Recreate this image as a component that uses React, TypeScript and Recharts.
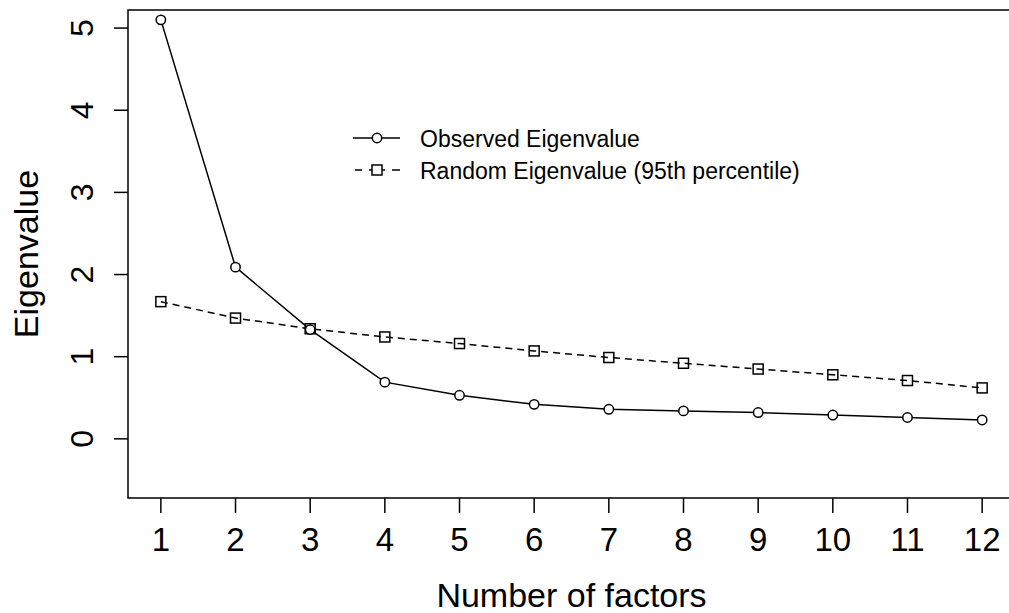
import { LineChart, Line, XAxis, YAxis, ReferenceArea } from "recharts";

const factors = [1, 2, 3, 4, 5, 6, 7, 8, 9, 10, 11, 12];
const observed = [5.1, 2.09, 1.33, 0.69, 0.53, 0.42, 0.36, 0.34, 0.32, 0.29, 0.26, 0.23];
const random95 = [1.67, 1.47, 1.34, 1.24, 1.16, 1.07, 0.99, 0.92, 0.85, 0.78, 0.71, 0.62];
const yTicks = [0, 1, 2, 3, 4, 5];

const data = factors.map((f, i) => ({
  factor: f,
  observed: observed[i],
  random: random95[i],
}));

const FONT = "'Liberation Sans', Arial, sans-serif";

const XTick = (props: any) => {
  const { x, payload } = props;
  return (
    <text x={x} y={551} textAnchor="middle" fontSize={33} fontFamily={FONT} fill="#000">
      {payload.value}
    </text>
  );
};

const YTick = (props: any) => {
  const { y, payload } = props;
  return (
    <text
      x={93}
      y={y}
      transform={`rotate(-90, 93, ${y})`}
      textAnchor="middle"
      fontSize={32}
      fontFamily={FONT}
      fill="#000"
    >
      {payload.value}
    </text>
  );
};

const SquareDot = (props: any) => {
  const { cx, cy, index } = props;
  return (
    <rect
      key={`sq-${index}`}
      x={cx - 5}
      y={cy - 5}
      width={10}
      height={10}
      fill="none"
      stroke="#000"
      strokeWidth={1.5}
    />
  );
};

// legend drawn as its own little svg, placed over the plot
const LegendBox = () => (
  <svg width={480} height={70} style={{ position: "absolute", left: 345, top: 118 }}>
    <line x1={8} y1={20} x2={55} y2={20} stroke="#000" strokeWidth={1.5} />
    <circle cx={32} cy={20} r={4.7} fill="#fff" stroke="#000" strokeWidth={1.5} />
    <text x={75} y={29} fontSize={23} fontFamily={FONT} fill="#000">
      Observed Eigenvalue
    </text>
    <line x1={10} y1={52} x2={17} y2={52} stroke="#000" strokeWidth={1.5} />
    <line x1={24} y1={52} x2={40} y2={52} stroke="#000" strokeWidth={1.5} />
    <line x1={47} y1={52} x2={55} y2={52} stroke="#000" strokeWidth={1.5} />
    <rect x={27} y={47} width={10} height={10} fill="#fff" stroke="#000" strokeWidth={1.5} />
    <text x={75} y={61} fontSize={23} fontFamily={FONT} fill="#000">
      Random Eigenvalue (95th percentile)
    </text>
  </svg>
);

export default function App() {
  return (
    <div
      style={{
        position: "absolute",
        left: 0,
        top: 0,
        width: 1009,
        height: 613,
        overflow: "hidden",
        background: "#fff",
      }}
    >
      <LineChart width={1020} height={613} data={data} margin={{ top: 10, right: 5, left: 0, bottom: 0 }}>
        <XAxis
          dataKey="factor"
          type="number"
          domain={[0.56, 12.44]}
          ticks={factors}
          interval={0}
          height={115}
          axisLine={false}
          tickSize={15}
          tickLine={{ stroke: "#000", strokeWidth: 1.5 }}
          tick={<XTick />}
          label={{
            content: (p: any) => {
              const vb = p.viewBox;
              return (
                <text x={vb.x + vb.width / 2} y={607} textAnchor="middle" fontSize={34} fontFamily={FONT} fill="#000">
                  Number of factors
                </text>
              );
            },
          }}
        />
        <YAxis
          type="number"
          domain={[-0.72, 5.22]}
          ticks={yTicks}
          interval={0}
          width={128}
          axisLine={false}
          tickSize={14}
          tickLine={{ stroke: "#000", strokeWidth: 1.5 }}
          tick={<YTick />}
          label={{
            content: (p: any) => {
              const vb = p.viewBox;
              const cy = vb.y + vb.height / 2;
              return (
                <text
                  x={38}
                  y={cy}
                  transform={`rotate(-90, 38, ${cy})`}
                  textAnchor="middle"
                  fontSize={34}
                  fontFamily={FONT}
                  fill="#000"
                >
                  Eigenvalue
                </text>
              );
            },
          }}
        />
        <ReferenceArea
          x1={0.56}
          x2={12.44}
          y1={-0.72}
          y2={5.22}
          fill="none"
          fillOpacity={0}
          stroke="#000"
          strokeWidth={1.5}
          ifOverflow="visible"
        />
        <Line
          dataKey="random"
          type="linear"
          stroke="#000"
          strokeWidth={1.5}
          strokeDasharray="7 5"
          dot={<SquareDot />}
          isAnimationActive={false}
        />
        <Line
          dataKey="observed"
          type="linear"
          stroke="#000"
          strokeWidth={1.5}
          dot={{ r: 4.7, fill: "#fff", stroke: "#000", strokeWidth: 1.5 }}
          isAnimationActive={false}
        />
      </LineChart>
      <LegendBox />
    </div>
  );
}
